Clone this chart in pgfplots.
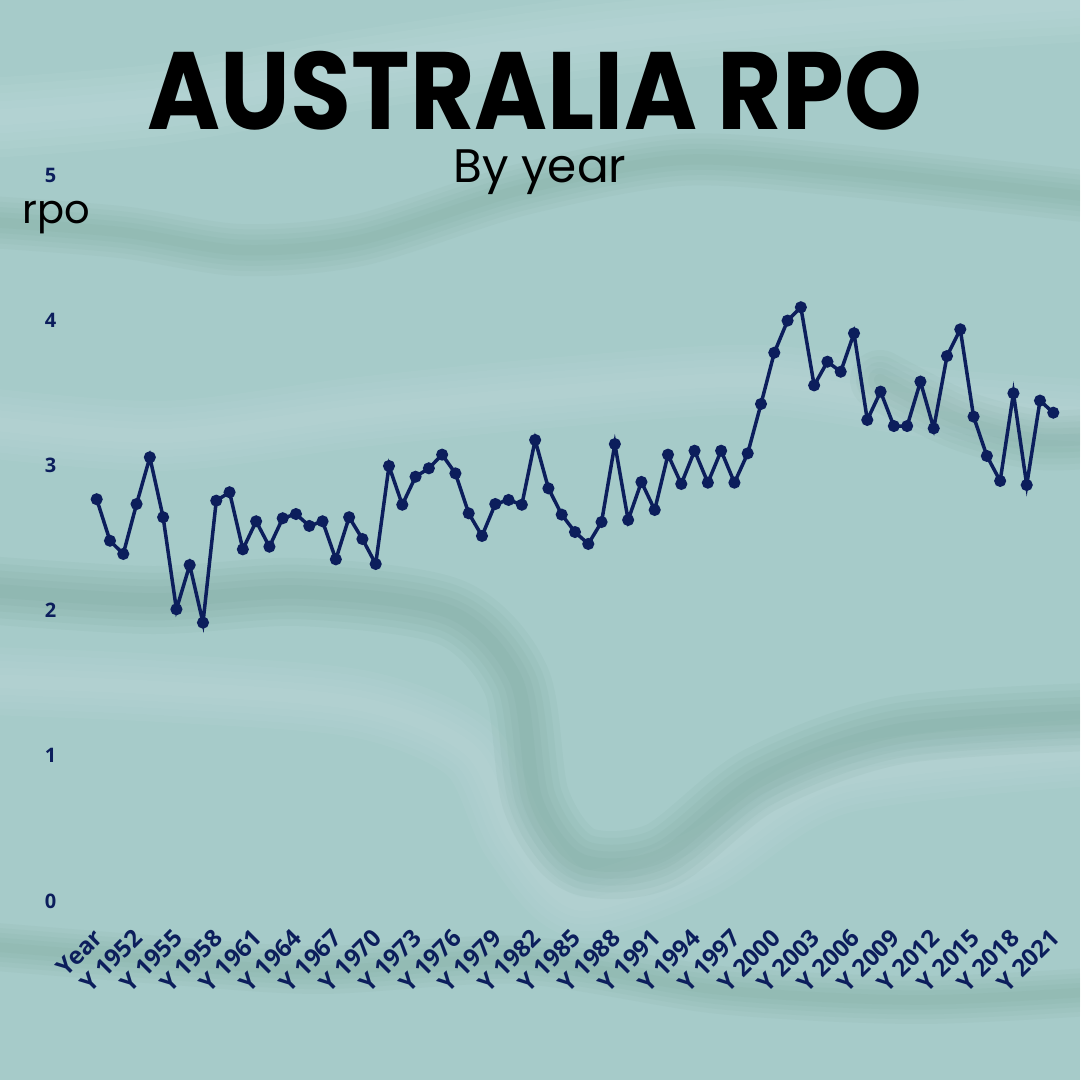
\documentclass[border=0pt]{standalone}
\usepackage{pgfplots}
\pgfplotsset{compat=1.18}
\usepackage{fontspec}
\setmainfont{Open Sans}
\newfontfamily\popfont{Poppins}
\definecolor{bg}{RGB}{166,203,201}
\definecolor{bandd}{RGB}{100,148,132}
\definecolor{bandl}{RGB}{205,228,230}
\definecolor{navy}{RGB}{12,30,92}
\newcommand{\softband}[4]{%
  \foreach \f in {1.0,0.8,0.6,0.4,0.2}{%
    \pgfmathsetmacro\lw{\f*#3}%
    \draw[#1, opacity=#2, line width=\lw pt, line cap=round, line join=round] plot[smooth] coordinates {#4};}}
\begin{document}
\begin{tikzpicture}[x=1pt,y=1pt]
\fill[bg] (0,0) rectangle (540,540);
\useasboundingbox (0,0) rectangle (540,540);
\begin{scope}
\clip (0,0) rectangle (540,540);
% soft marble bands (decoration)
\softband{bandl}{0.09}{40}{(-20,480) (80,488) (180,505) (300,522) (420,532) (560,540)}
\softband{bandl}{0.08}{35}{(-20,330) (80,322) (180,334) (280,344) (380,350) (470,338) (560,332)}
\softband{bandl}{0.08}{34}{(-20,200) (80,196) (180,188) (235,165) (258,120) (290,88) (350,108) (420,150) (560,165)}
\softband{bandd}{0.07}{34}{(-20,246) (75,240) (150,244) (225,234) (258,200) (268,140) (290,110) (330,112) (380,150) (450,175) (560,182)}
\softband{bandd}{0.06}{26}{(-20,430) (60,424) (120,415) (180,420) (260,445) (340,460) (420,455) (560,440)}
\softband{bandd}{0.06}{30}{(440,350) (480,330) (520,320) (560,322)}
\softband{bandd}{0.06}{24}{(-20,68) (80,60) (160,55) (260,60) (360,45) (460,40) (560,45)}
\end{scope}
\node[font=\popfont\bfseries\fontsize{55}{60}\selectfont, anchor=base, inner sep=0pt] at (267.5,475.3) {\scalebox{0.9}[1]{AUSTRALIA RPO}};
\node[font=\popfont\fontsize{23.5}{26}\selectfont, anchor=base, inner sep=0pt] at (270,448.5) {By year};
\node[font=\popfont\fontsize{20}{24}\selectfont, anchor=base west, inner sep=0pt] at (11,428.3) {rpo};
\begin{axis}[
  at={(48.35pt,89.5pt)}, anchor=south west,
  scale only axis, width=478.3pt, height=363pt,
  xmin=0, xmax=72, ymin=0, ymax=5,
  axis line style={draw=none},
  major tick length=0pt,
  ytick={0,1,2,3,4,5},
  xtick={0,3,...,72},
  xticklabels={Year,Y 1952,Y 1955,Y 1958,Y 1961,Y 1964,Y 1967,Y 1970,Y 1973,Y 1976,Y 1979,Y 1982,Y 1985,Y 1988,Y 1991,Y 1994,Y 1997,Y 2000,Y 2003,Y 2006,Y 2009,Y 2012,Y 2015,Y 2018,Y 2021},
  /pgf/number format/assume math mode=true,
  ticklabel style={font=\bfseries\fontsize{10}{12}\selectfont, text=navy},
  yticklabel style={anchor=center, xshift=-23pt},
  xticklabel style={font=\bfseries\fontsize{12}{13}\selectfont, xshift=-2.4pt, yshift=-13pt, rotate=45, anchor=north east, inner sep=0pt},
  clip=false,
]
\addplot[navy, line width=1.75pt, mark=*, mark size=2.1pt, mark options={fill=navy, draw=navy}] table {
x y
0 2.767
1 2.481
2 2.390
3 2.734
4 3.056
5 2.643
6 2.009
7 2.314
8 1.917
9 2.757
10 2.815
11 2.422
12 2.615
13 2.440
14 2.636
15 2.665
16 2.583
17 2.615
18 2.353
19 2.643
20 2.493
21 2.321
22 2.996
23 2.729
24 2.922
25 2.980
26 3.074
27 2.945
28 2.670
29 2.514
30 2.734
31 2.762
32 2.729
33 3.175
34 2.842
35 2.661
36 2.541
37 2.459
38 2.610
39 3.147
40 2.624
41 2.886
42 2.693
43 3.074
44 2.872
45 3.101
46 2.881
47 3.101
48 2.881
49 3.083
50 3.423
51 3.776
52 3.997
53 4.089
54 3.551
55 3.714
56 3.645
57 3.910
58 3.313
59 3.508
60 3.271
61 3.271
62 3.577
63 3.255
64 3.753
65 3.937
66 3.336
67 3.065
68 2.893
69 3.497
70 2.865
71 3.446
72 3.363
};
\end{axis}
\end{tikzpicture}
\end{document}
